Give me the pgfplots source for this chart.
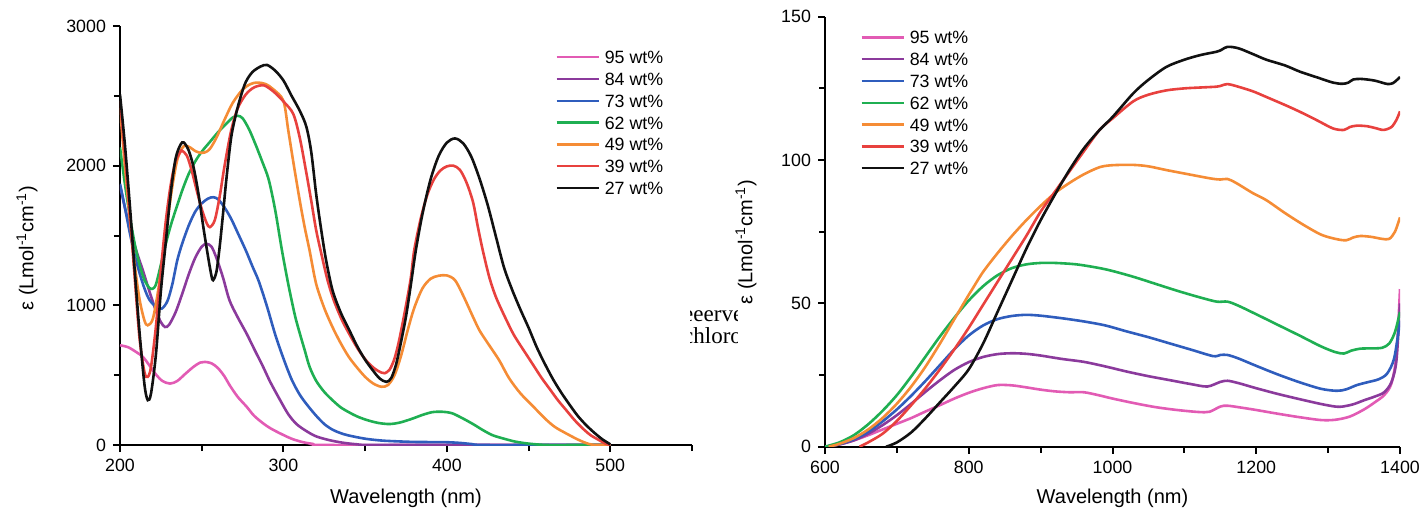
\documentclass[border=0pt]{standalone}
\usepackage{fontspec}
\setmainfont{Liberation Sans}
\newfontfamily\seriffont{Liberation Serif}
\usepackage{pgfplots}
\pgfplotsset{compat=1.18}
\definecolor{c95}{HTML}{E25BB4}
\definecolor{c84}{HTML}{8B3A9C}
\definecolor{c73}{HTML}{2F5DBD}
\definecolor{c62}{HTML}{1FAF52}
\definecolor{c49}{HTML}{F58C35}
\definecolor{c39}{HTML}{E8413E}
\definecolor{c27}{HTML}{111111}
\pgfplotsset{
  spec/.style={
    scale only axis,
    axis x line=bottom, axis y line=left,
    axis line style={line width=1.1pt, -},
    tick align=outside,
    major tick length=3.5pt, minor tick length=3pt,
    every tick/.style={line width=1pt, black},
    tick label style={font=\fontsize{8.9}{10}\selectfont},
    /pgf/number format/assume math mode=true,
    /pgf/number format/set thousands separator={},
    label style={font=\fontsize{10}{12}\selectfont},
    legend style={draw=none, fill=none, font=\fontsize{8.9}{10}\selectfont,
      inner sep=0pt, row sep=4.4pt, column sep=2.5pt,
      nodes={inner sep=0pt, text height=6.5pt, text depth=0pt}},
    legend cell align=left,
    legend image code/.code={\draw[#1, line width=1.2pt] (0pt,0pt) -- (21pt,0pt);},
    every axis plot/.append style={line width=1.3pt, smooth},
  }
}
\begin{document}
\begin{tikzpicture}
\useasboundingbox (0,0) rectangle (710pt,255pt);
\begin{scope}
\clip (345pt,0pt) rectangle (368.5pt,255pt);
\node[anchor=base west, font=\seriffont\fontsize{11.5}{13}\selectfont, inner sep=0pt] at (341.4pt,94.15pt) {eeerved};
\node[anchor=base west, font=\seriffont\fontsize{11.5}{13}\selectfont, inner sep=0pt] at (332.45pt,83.35pt) {dichloromethane};
\end{scope}
% ---------------- left panel ----------------
\begin{axis}[spec,
  at={(60pt,32.5pt)}, anchor=south west,
  width=286pt, height=209.5pt,
  xmin=200, xmax=550, ymin=0, ymax=3000,
  xtick={200,300,400,500}, minor xtick={250,350,450,550},
  ytick={0,1000,2000,3000}, minor ytick={500,1500,2500},
  xlabel={Wavelength (nm)},
  xlabel style={at={(axis description cs:0.5,-0.1265)}, anchor=center},
  ylabel={ε (Lmol\textsuperscript{-1}cm\textsuperscript{-1})},
  ylabel style={at={(axis description cs:-0.1626,0.470)}, anchor=center},
  legend style={at={(axis description cs:0.7605,0.942)}, anchor=north west},
]
\addplot[c95] coordinates {(200,714)(205,700)(210,665)(214,631)(218,570)(222,505)(226,458)(230.6,440)(235,458)(240,510)(245,560)(249,590)(252,595)(256,585)(260,550)(264,490)(267,430)(272,345)(277.5,274)(282,210)(287.6,155)(292,120)(298,83)(305,45)(312,20)(318,8)(325,0)(400,0)(500,0)};
\addlegendentry{95 wt\%}
\addplot[c84] coordinates {(200,1860)(203,1700)(206,1560)(210,1390)(214,1250)(218,1100)(222,960)(225,880)(227.5,845)(230,860)(234,950)(238,1080)(242,1220)(246,1340)(250,1420)(253,1440)(256,1420)(259,1340)(263,1200)(267,1036)(272,915)(277.5,797)(282,690)(287.6,559)(292,450)(298,321)(303,220)(308,150)(314,100)(320,62)(328,35)(336,17)(345,5)(355,0)(420,0)(500,0)};
\addlegendentry{84 wt\%}
\addplot[c73] coordinates {(200,1870)(203,1700)(206,1520)(209,1360)(212,1230)(215,1120)(218,1040)(222,990)(225.5,976)(229,1030)(232,1150)(235,1320)(238,1440)(242,1570)(246,1670)(250,1730)(254,1765)(257,1774)(260,1760)(264,1700)(268,1620)(272,1520)(277,1393)(281,1280)(285,1170)(290,990)(295,790)(300,620)(305,470)(310,360)(315,280)(320,210)(325,150)(330,110)(335,85)(340,68)(350,45)(360,32)(370,26)(380,22)(390,21)(400,20)(408,15)(415,7)(422,0)(460,0)(500,0)};
\addlegendentry{73 wt\%}
\addplot[c62] coordinates {(200,2131)(203,1870)(206,1640)(209,1440)(212,1290)(215,1180)(218,1125)(220,1119)(222,1150)(225,1290)(228,1440)(231,1570)(234,1680)(238,1820)(242,1940)(246,2030)(250,2100)(255,2170)(260,2240)(265,2300)(269,2345)(272,2357)(275,2340)(279,2260)(283,2150)(287,2030)(291,1900)(295,1680)(299,1400)(303,1150)(307,930)(310,800)(313,680)(316,560)(320,460)(325,380)(330,321)(335,270)(340,235)(345,205)(351,179)(358,158)(365,150)(371,160)(378,185)(385,215)(391,235)(397,238)(403,228)(409,195)(416,150)(422,107)(428,70)(435,45)(442,24)(450,10)(461,0)(480,0)(500,0)};
\addlegendentry{62 wt\%}
\addplot[c49] coordinates {(200,2414)(203,2000)(206,1620)(209,1290)(212,1040)(215,890)(217,857)(220,900)(223,1080)(226,1330)(229,1600)(232,1850)(235,2040)(238,2125)(240,2143)(243,2130)(246,2105)(249,2093)(252,2095)(255,2120)(259,2200)(264,2330)(269,2450)(275,2545)(280,2585)(284,2595)(289,2585)(294,2545)(300,2464)(303,2250)(306,2030)(310,1750)(313,1560)(316,1393)(320,1155)(325,980)(330,845)(335,730)(340,631)(345,555)(350,488)(355,440)(360,417)(364,430)(368,500)(372,640)(376,820)(380,980)(385,1120)(390,1190)(395,1212)(400,1214)(405,1180)(410,1070)(416,917)(420,820)(425,730)(432,607)(438,480)(445,370)(453,274)(460,190)(466,130)(473,83)(480,40)(485,15)(489,2)(495,0)(500,0)};
\addlegendentry{49 wt\%}
\addplot[c39] coordinates {(200,2464)(203,2080)(206,1655)(209,1200)(212,760)(215,520)(217,488)(219,560)(222,850)(225,1250)(228,1600)(231,1860)(234,2030)(237,2100)(238,2107)(241,2070)(244,1960)(247,1820)(250,1690)(253,1590)(255,1560)(258,1610)(261,1780)(264,2000)(268,2250)(272,2410)(277,2510)(282,2560)(288,2575)(294,2530)(300,2460)(306,2371)(310,2200)(314,1950)(317,1750)(320,1540)(323,1380)(327,1180)(331,1030)(336,890)(341,780)(346,680)(351,600)(356,545)(360,518)(362,514)(365,540)(368,620)(371,760)(375,1000)(378,1200)(380,1393)(384,1620)(388,1790)(392,1900)(396,1965)(400,1995)(404,2000)(408,1970)(412,1880)(416,1740)(419,1560)(422,1393)(426,1200)(430,1060)(435,930)(440,810)(443,750)(448,660)(453,570)(458,480)(463,400)(468,320)(473,250)(478,180)(483,120)(488,70)(493,36)(497,10)(500,0)};
\addlegendentry{39 wt\%}
\addplot[c27] coordinates {(200,2510)(203,2150)(206,1720)(209,1250)(212,800)(215,430)(217,321)(219,370)(222,650)(225,1100)(228,1450)(231,1800)(234,2050)(237,2150)(239,2166)(242,2110)(245,1990)(248,1800)(251,1560)(254,1340)(256,1210)(257,1180)(259,1240)(261,1420)(263,1650)(265,1893)(268,2200)(271,2370)(274,2500)(277,2600)(281,2670)(286,2710)(290,2721)(295,2680)(300,2610)(305,2500)(310,2393)(314,2280)(317,2100)(320,1800)(323,1550)(326,1330)(330,1110)(335,950)(340,830)(345,710)(350,610)(355,530)(359,475)(363,452)(366,480)(369,580)(372,740)(375,920)(378,1150)(381,1393)(385,1650)(390,1900)(395,2070)(400,2165)(405,2195)(410,2160)(415,2063)(420,1907)(425,1718)(430,1493)(435,1270)(440,1110)(445,970)(450,840)(455,700)(460,580)(465,470)(470,375)(475,290)(480,210)(485,145)(490,90)(495,42)(500,5)};
\addlegendentry{27 wt\%}
\end{axis}
% ---------------- right panel ----------------
\begin{axis}[spec,
  at={(412.5pt,31.65pt)}, anchor=south west,
  width=287.5pt, height=215pt,
  xmin=600, xmax=1400, ymin=0, ymax=150,
  xtick={600,800,1000,1200,1400}, minor xtick={700,900,1100,1300},
  ytick={0,50,100,150}, minor ytick={25,75,125},
  xlabel={Wavelength (nm)},
  xlabel style={at={(axis description cs:0.5,-0.119)}, anchor=center},
  ylabel={ε (Lmol\textsuperscript{-1}cm\textsuperscript{-1})},
  ylabel style={at={(axis description cs:-0.1374,0.476)}, anchor=center},
  legend style={at={(axis description cs:0.0609,0.968)}, anchor=north west},
]
\addplot[c95] coordinates {(600,0)(620,0.8)(640,2.2)(660,4)(680,6)(700,8)(720,10)(740,12.3)(760,14.5)(780,16.8)(800,18.8)(820,20.4)(840,21.5)(860,21.4)(880,20.7)(900,19.9)(920,19.3)(940,19)(960,19)(980,18)(1000,16.8)(1030,15.2)(1060,13.8)(1090,12.8)(1120,12.1)(1135,12.2)(1150,14)(1160,14.3)(1180,13.6)(1200,12.8)(1230,11.5)(1260,10.3)(1290,9.3)(1310,9.4)(1330,10.5)(1350,13)(1365,15.5)(1378,18)(1388,22)(1395,32)(1400,55)};
\addlegendentry{95 wt\%}
\addplot[c84] coordinates {(600,0)(620,0.8)(640,2.2)(660,4.5)(680,7.5)(700,11)(720,15)(740,19.2)(760,23.2)(780,26.8)(800,29.5)(820,31.3)(840,32.3)(860,32.6)(880,32.4)(900,31.8)(930,30.6)(960,29.6)(990,28)(1020,26.2)(1050,24.6)(1080,23.2)(1110,21.8)(1132,21)(1150,22.6)(1160,23)(1175,22.2)(1200,20.4)(1230,18.4)(1260,16.6)(1290,14.9)(1310,14)(1320,14)(1335,14.8)(1350,16.2)(1365,17.5)(1378,19)(1388,22.5)(1395,30)(1400,50)};
\addlegendentry{84 wt\%}
\addplot[c73] coordinates {(600,0)(620,0.9)(640,2.6)(660,5.2)(680,8.8)(700,13)(720,17.8)(740,23)(760,28.5)(780,34)(800,38.8)(820,42.3)(840,44.5)(860,45.6)(880,46)(900,45.7)(930,44.8)(960,43.7)(990,42.3)(1020,40.2)(1050,38.2)(1080,36)(1110,33.8)(1140,31.6)(1150,32)(1160,32)(1175,30.8)(1200,28.2)(1230,25.2)(1260,22.5)(1290,20.2)(1312,19.5)(1325,20)(1340,21.5)(1355,22.5)(1370,23.5)(1382,25.5)(1392,31)(1400,44)};
\addlegendentry{73 wt\%}
\addplot[c62] coordinates {(600,0)(620,1.5)(640,4)(660,7.8)(680,12.5)(700,18)(720,24.5)(740,31.5)(760,38.5)(780,45)(800,51)(820,56)(840,59.8)(860,62.3)(880,63.6)(900,64.1)(920,64.1)(950,63.6)(980,62.4)(1000,61.3)(1030,59.2)(1060,56.8)(1090,54.4)(1120,52.2)(1145,50.6)(1160,50.6)(1175,49.2)(1200,46.2)(1230,42.5)(1260,38.8)(1290,35)(1310,33)(1322,32.5)(1332,33.5)(1345,34.2)(1360,34.3)(1375,34.5)(1385,36)(1393,40)(1400,47)};
\addlegendentry{62 wt\%}
\addplot[c49] coordinates {(605,0)(620,1)(640,3)(660,6)(680,10)(700,15)(720,21)(740,28)(760,36)(780,44.5)(800,53)(805,55)(820,61)(840,67.5)(860,73.5)(880,79)(900,84)(920,88.5)(940,92)(960,95)(982,97.5)(1000,98.2)(1029,98.3)(1050,97.8)(1075,96.5)(1100,95.3)(1136,93.6)(1150,93.2)(1160,93.4)(1172,92)(1195,88.5)(1214,86)(1240,81.5)(1265,77.5)(1290,74)(1310,72.5)(1325,72)(1335,73)(1345,73.5)(1360,73.2)(1375,72.5)(1385,72.5)(1393,75)(1400,80)};
\addlegendentry{49 wt\%}
\addplot[c39] coordinates {(648,0)(660,1.5)(680,4.5)(700,9)(720,14.5)(740,20.5)(760,27)(780,34)(800,41.5)(820,49.5)(840,57.5)(860,65.5)(880,73.5)(900,82)(920,89)(940,96)(960,103)(982,110.5)(1000,114.5)(1029,120.5)(1050,122.8)(1075,124.3)(1100,125)(1122,125.3)(1145,125.6)(1152,126)(1160,126.5)(1172,125.8)(1195,124)(1214,122)(1240,119.2)(1261,116.8)(1285,113.8)(1307,111)(1322,110.5)(1330,111.5)(1340,112)(1354,111.8)(1365,111.2)(1377,110.5)(1388,111.5)(1395,114)(1400,117)};
\addlegendentry{39 wt\%}
\addplot[c27] coordinates {(685,0)(700,1.5)(720,5)(740,10)(760,15.5)(780,21)(800,27)(820,36)(840,47)(860,58)(880,69)(900,79)(920,88)(940,96.5)(960,104)(982,110.5)(1000,115)(1029,123.3)(1050,128)(1075,132.5)(1100,135)(1122,136.6)(1145,137.8)(1152,138.5)(1160,139.5)(1175,139)(1195,137)(1214,135)(1240,133)(1261,130.8)(1285,128.8)(1307,127)(1320,126.6)(1328,127)(1335,128.1)(1345,128.3)(1354,128.1)(1365,127.7)(1375,127)(1383,126.5)(1390,126.8)(1396,128)(1400,129)};
\addlegendentry{27 wt\%}
\end{axis}
\end{tikzpicture}
\end{document}
